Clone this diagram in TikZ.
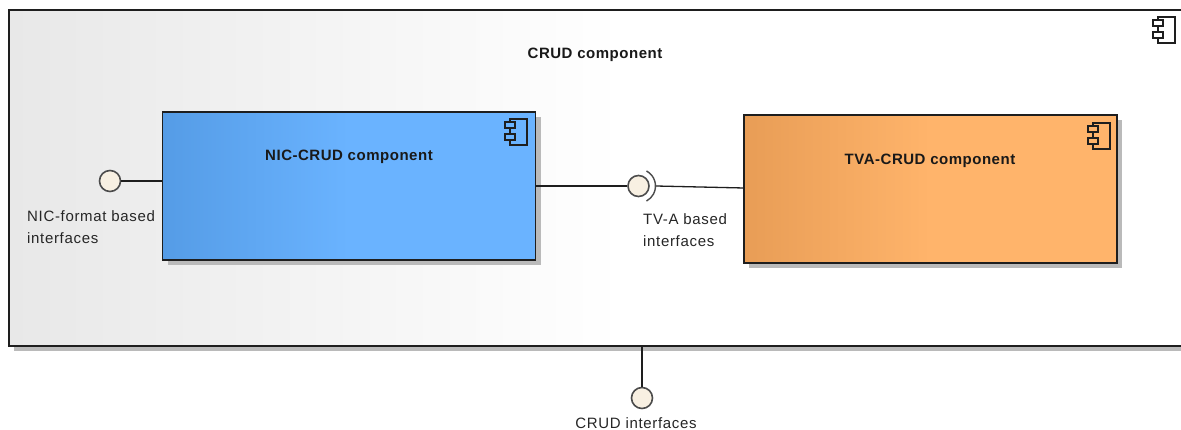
\documentclass[tikz,border=0pt]{standalone}
\usepackage{fontspec}
\setmainfont{Liberation Sans}
\newfontfamily\titlefam[LetterSpace=3.5]{Liberation Sans}
\newfontfamily\labelfam[LetterSpace=4.5]{Liberation Sans}
\usetikzlibrary{shadows}
\definecolor{bluea}{HTML}{559CE6}
\definecolor{blueb}{HTML}{6AB3FF}
\definecolor{orangea}{HTML}{E89D56}
\definecolor{orangeb}{HTML}{FFB46B}
\definecolor{outera}{HTML}{E8E8E8}
\pgfdeclarehorizontalshading{bluefade}{100bp}{color(0bp)=(bluea);color(25bp)=(bluea);color(50bp)=(blueb);color(100bp)=(blueb)}
\pgfdeclarehorizontalshading{orangefade}{100bp}{color(0bp)=(orangea);color(25bp)=(orangea);color(50bp)=(orangeb);color(100bp)=(orangeb)}
\pgfdeclarehorizontalshading{outerfadeb}{100bp}{color(0bp)=(outera);color(25bp)=(outera);color(51bp)=(white);color(100bp)=(white)}
\definecolor{ink}{HTML}{1E1E1E}
\definecolor{lolli}{HTML}{F8F0E2}
\tikzset{
  x=1pt,y=-1pt,
  compbox/.style={draw=ink,line width=1.5pt,rectangle,inner sep=0pt,outer sep=0pt,anchor=north west,
    general shadow={fill=black!27,shadow xshift=5pt,shadow yshift=-5pt}},
  lollipop/.style={circle,draw=black!70,line width=1.6pt,fill=lolli,minimum size=21pt,inner sep=0pt},
  wire/.style={draw=ink,line width=1.3pt},
  socket/.style={draw=black!70,line width=1.4pt},
  titletext/.style={font=\titlefam\fontsize{15}{17}\selectfont\bfseries,text=black!90,inner sep=0pt},
  labeltext/.style={font=\labelfam\fontsize{15}{22}\selectfont,text=black!85,inner sep=0pt,align=left,anchor=north west},
  iconline/.style={draw=ink,line width=1.4pt},
}
\newcommand{\compicon}[2]{%
  \draw[iconline] (#1-17,#2+3) -- (#1-17,#2) -- (#1,#2) -- (#1,#2+26) -- (#1-17,#2+26) -- (#1-17,#2+21);
  \draw[iconline] (#1-17,#2+9) -- (#1-17,#2+15);
  \draw[iconline] (#1-22,#2+3) rectangle (#1-12,#2+9);
  \draw[iconline] (#1-22,#2+15) rectangle (#1-12,#2+21);
}
\begin{document}
\begin{tikzpicture}
\useasboundingbox (0,0) rectangle (1181,430);
\fill[white] (0,0) rectangle (1181,430);
\node[compbox,shading=outerfadeb,minimum width=1180pt,minimum height=336pt] (crud) at (9,10) {};
\node[compbox,shading=bluefade,minimum width=373pt,minimum height=148pt] (nic) at (162.5,112) {};
\node[compbox,shading=orangefade,minimum width=373pt,minimum height=148pt] (tva) at (744,115) {};
\node[titletext] (crudt) at (595,54.5) {CRUD component};
\node[titletext] (nict) at (349,157) {NIC-CRUD component};
\node[titletext] (tvat) at (930,160.5) {TVA-CRUD component};
\compicon{1175}{17}
\compicon{527}{119}
\compicon{1110}{123}
\node[lollipop] (l1) at (110,181) {};
\node[lollipop] (l2) at (638.5,186) {};
\node[lollipop] (l3) at (642,398) {};
\coordinate (s2) at (656,186);
\draw[wire] (l1) -- (l1-|nic.west);
\draw[wire] (l2-|nic.east) -- (l2);
\draw[wire] (s2) -- (744,188);
\draw[wire] (642,346) -- (l3);
\draw[socket] (l2) ++(-62:17) arc[start angle=-62,end angle=62,radius=17];
\node[labeltext] (la) at (27,210) {NIC-format based\\interfaces};
\node[labeltext] (lb) at (643,213) {TV-A based\\interfaces};
\node[labeltext,anchor=north] (lc) at (636,417) {CRUD interfaces};
\end{tikzpicture}
\end{document}
